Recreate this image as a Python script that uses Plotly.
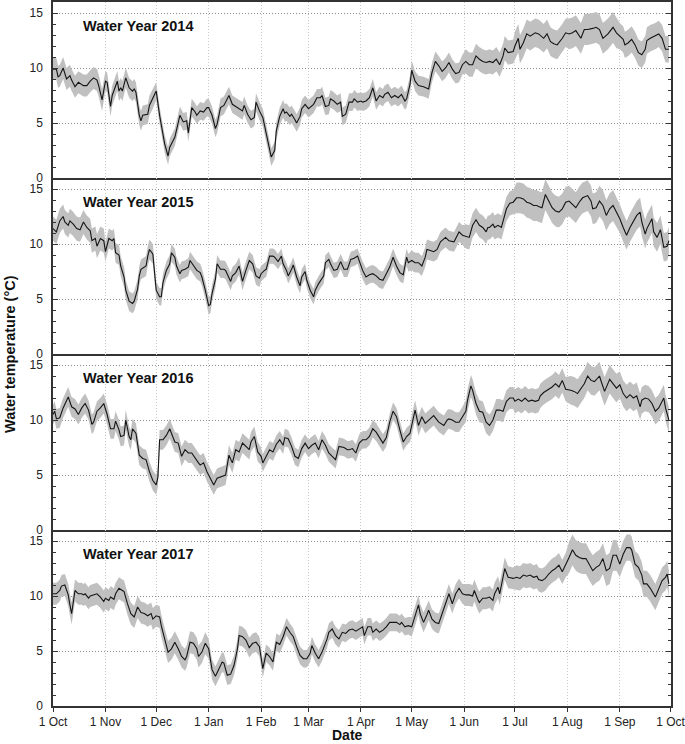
import numpy as np
import pandas as pd
import plotly.graph_objects as go
from plotly.subplots import make_subplots

# day of the water year (0 = 1 Oct) and daily mean water temperature (degC)
days_2014 = [0, 2, 3, 4, 6, 8, 10, 11, 13, 15, 18, 20, 22, 24, 26, 27, 29, 31, 32, 34,
             35, 38, 39, 40, 41, 43, 45, 47, 48, 49, 51, 52, 53, 56, 57, 59, 61, 63, 65, 66,
             68, 69, 72, 74, 75, 77, 79, 80, 82, 84, 85, 87, 89, 91, 92, 94, 96, 97, 99, 101,
             104, 106, 108, 110, 112, 113, 115, 117, 119, 120, 122, 124, 126, 128, 129, 131, 132, 134, 136, 137,
             138, 140, 141, 143, 144, 146, 147, 149, 151, 154, 156, 158, 159, 161, 163, 164, 166, 168, 170, 171,
             173, 175, 177, 178, 180, 182, 183, 185, 187, 189, 191, 193, 195, 196, 198, 200, 202, 204, 206, 208,
             209, 211, 212, 214, 216, 219, 221, 222, 224, 226, 228, 230, 232, 234, 236, 238, 240, 242, 244, 246,
             248, 250, 252, 254, 256, 258, 260, 262, 264, 266, 267, 269, 272, 273, 275, 276, 278, 280, 282, 285,
             287, 290, 292, 294, 296, 298, 301, 303, 305, 307, 309, 312, 314, 316, 319, 321, 323, 325, 328, 331,
             333, 335, 337, 338, 340, 342, 344, 346, 348, 350, 351, 353, 356, 358, 360, 362, 364]
temp_2014 = [9.9, 9.9, 9.2, 9.3, 10.0, 9.0, 9.3, 8.9, 8.3, 8.7, 8.4, 8.4, 8.8, 9.1, 8.9, 8.4, 7.1, 8.8, 8.7, 6.5,
             7.5, 8.8, 7.9, 8.2, 7.9, 9.1, 8.2, 7.9, 8.1, 7.8, 5.7, 5.2, 5.7, 5.8, 6.6, 7.2, 7.9, 5.7, 4.0, 3.1,
             2.0, 2.8, 3.7, 4.9, 5.7, 5.1, 5.2, 4.1, 6.4, 6.0, 5.7, 6.1, 6.0, 6.4, 6.4, 5.7, 4.5, 4.9, 6.4, 6.6,
             7.5, 6.7, 6.5, 6.3, 6.1, 6.6, 5.8, 5.3, 5.5, 6.9, 6.1, 5.5, 4.0, 2.5, 1.9, 2.5, 4.3, 5.6, 6.3, 5.9,
             6.0, 5.6, 5.8, 5.3, 5.0, 5.6, 6.3, 6.7, 6.3, 6.7, 7.3, 7.3, 7.5, 6.5, 6.6, 7.2, 7.0, 6.7, 6.9, 5.6,
             5.8, 6.9, 6.9, 7.2, 6.9, 7.0, 6.9, 7.0, 7.3, 8.2, 7.0, 7.5, 7.3, 7.6, 7.8, 7.3, 7.5, 7.3, 7.6, 7.0,
             7.2, 8.5, 9.8, 8.8, 8.4, 8.3, 8.2, 8.1, 9.6, 10.6, 10.2, 9.7, 10.0, 10.5, 9.9, 9.5, 9.6, 10.3, 10.6, 10.3,
             10.3, 11.1, 10.8, 10.6, 10.5, 10.6, 10.5, 10.8, 10.3, 11.1, 11.8, 11.4, 11.5, 12.0, 12.7, 11.7, 12.3, 13.1, 12.9, 13.2,
             13.1, 12.7, 13.1, 12.4, 12.2, 12.1, 12.7, 13.2, 13.1, 13.2, 13.4, 12.7, 13.5, 13.5, 13.6, 13.7, 13.5, 12.7, 13.1, 13.7,
             13.2, 12.9, 12.6, 12.1, 12.3, 12.6, 12.1, 11.4, 11.2, 11.7, 12.5, 12.7, 12.9, 13.1, 12.7, 11.7, 11.7]

days_2015 = [0, 2, 4, 6, 7, 9, 10, 12, 14, 16, 18, 20, 22, 23, 25, 26, 28, 30, 31, 33,
             35, 36, 37, 39, 40, 42, 43, 45, 47, 48, 50, 51, 52, 54, 55, 56, 57, 59, 60, 61,
             63, 64, 65, 67, 69, 70, 72, 73, 75, 76, 78, 80, 81, 83, 85, 87, 88, 90, 92, 93,
             94, 96, 97, 99, 101, 102, 105, 106, 108, 110, 111, 112, 114, 116, 118, 120, 122, 123, 125, 126,
             128, 130, 131, 133, 135, 136, 138, 139, 141, 142, 144, 146, 147, 149, 150, 152, 154, 155, 157, 160,
             161, 163, 164, 166, 168, 170, 172, 174, 176, 178, 180, 182, 183, 185, 187, 189, 191, 193, 195, 197,
             199, 201, 203, 205, 207, 209, 210, 212, 214, 216, 218, 220, 221, 223, 225, 227, 229, 232, 234, 237,
             240, 242, 244, 246, 248, 250, 252, 254, 256, 257, 258, 260, 261, 263, 265, 268, 270, 272, 274, 276,
             278, 280, 282, 284, 286, 287, 289, 291, 293, 295, 297, 299, 301, 303, 305, 307, 309, 311, 313, 316,
             318, 319, 321, 323, 325, 327, 329, 331, 333, 335, 337, 339, 341, 343, 345, 347, 348, 350, 351, 354,
             355, 357, 359, 361, 363, 364]
temp_2015 = [11.4, 11.1, 12.1, 12.5, 12.0, 11.7, 12.1, 11.8, 11.4, 11.3, 12.0, 11.5, 11.2, 10.3, 10.5, 9.8, 10.5, 10.3, 9.3, 10.5,
             10.3, 10.5, 9.2, 9.0, 8.0, 7.0, 5.8, 4.8, 4.6, 4.8, 5.9, 7.1, 7.7, 7.9, 8.0, 8.9, 9.5, 9.1, 7.1, 5.8,
             5.2, 5.2, 6.5, 7.6, 8.2, 9.2, 8.8, 8.0, 7.3, 7.6, 7.7, 7.9, 8.5, 8.0, 7.6, 7.4, 7.0, 5.8, 4.4, 4.5,
             5.5, 6.8, 8.2, 7.7, 7.7, 7.6, 6.6, 7.1, 7.4, 8.0, 7.3, 6.6, 7.6, 8.5, 8.2, 7.1, 6.9, 7.3, 7.6, 7.7,
             8.9, 8.9, 8.8, 8.4, 8.9, 8.2, 7.6, 7.1, 7.7, 8.1, 7.0, 6.2, 7.0, 7.5, 6.7, 5.8, 5.2, 5.8, 6.4, 7.1,
             8.3, 8.6, 8.2, 7.6, 7.7, 8.4, 7.7, 7.7, 8.6, 8.7, 8.9, 7.9, 7.6, 7.0, 7.2, 7.3, 7.1, 6.8, 6.7, 7.3,
             7.9, 8.8, 8.0, 7.4, 7.2, 8.8, 8.3, 8.5, 8.3, 8.3, 8.0, 8.8, 9.5, 9.4, 9.3, 9.5, 10.2, 10.6, 10.3, 10.2,
             11.1, 10.8, 10.7, 10.6, 11.7, 12.2, 11.7, 11.5, 11.1, 11.5, 11.5, 11.8, 11.5, 11.7, 11.5, 13.2, 13.7, 13.8, 14.2, 14.2,
             14.1, 13.8, 13.7, 13.5, 13.5, 13.4, 13.3, 14.5, 13.9, 13.3, 13.0, 12.9, 13.2, 13.8, 13.9, 13.6, 13.3, 13.8, 14.2, 14.4,
             13.9, 13.2, 13.3, 13.9, 13.5, 12.6, 13.2, 13.5, 12.9, 12.3, 11.5, 10.8, 11.5, 12.1, 12.6, 12.9, 12.0, 10.9, 11.4, 12.3,
             11.1, 10.6, 11.3, 9.7, 9.8, 10.3]

days_2016 = [0, 1, 2, 4, 6, 8, 9, 11, 13, 15, 17, 19, 21, 23, 24, 26, 28, 30, 32, 34,
             36, 37, 39, 40, 42, 43, 45, 46, 47, 49, 51, 53, 55, 57, 59, 61, 62, 63, 65, 67,
             69, 70, 72, 74, 76, 78, 80, 82, 84, 86, 87, 89, 91, 92, 94, 95, 97, 99, 102, 104,
             106, 108, 110, 112, 114, 116, 117, 119, 121, 123, 124, 126, 128, 130, 132, 134, 136, 137, 139, 141,
             143, 145, 147, 149, 151, 153, 155, 157, 159, 161, 163, 165, 167, 169, 172, 174, 175, 177, 179, 181,
             183, 185, 187, 189, 191, 193, 195, 197, 199, 201, 203, 205, 207, 209, 211, 212, 214, 216, 218, 220,
             222, 225, 226, 228, 231, 233, 234, 236, 238, 240, 242, 244, 245, 247, 248, 250, 252, 254, 256, 258,
             260, 262, 264, 266, 268, 270, 272, 273, 275, 277, 279, 281, 283, 285, 287, 288, 290, 293, 295, 297,
             299, 301, 303, 306, 308, 310, 312, 314, 316, 318, 320, 323, 324, 326, 329, 331, 333, 335, 337, 339,
             341, 343, 345, 347, 348, 350, 352, 354, 356, 358, 361, 362, 364]
temp_2016 = [10.5, 10.8, 10.1, 10.2, 11.1, 11.7, 12.1, 11.2, 11.0, 10.5, 11.1, 11.5, 10.9, 9.6, 9.8, 10.8, 11.1, 11.5, 10.5, 9.2,
             9.2, 9.9, 9.1, 8.5, 8.6, 10.0, 8.5, 8.2, 9.2, 8.8, 6.8, 6.5, 6.4, 5.3, 4.5, 4.1, 4.8, 8.2, 8.2, 8.6,
             9.2, 8.8, 8.0, 7.9, 6.7, 7.3, 7.0, 7.0, 6.5, 6.1, 5.9, 6.1, 5.3, 5.0, 4.5, 4.1, 4.7, 4.8, 5.0, 6.8,
             6.1, 7.3, 7.1, 7.9, 7.6, 7.3, 8.0, 8.5, 7.1, 6.7, 6.1, 6.7, 7.3, 7.1, 7.8, 8.2, 7.7, 8.4, 8.3, 7.6,
             6.7, 6.5, 7.4, 7.9, 7.4, 7.7, 7.9, 7.3, 8.2, 7.7, 7.0, 6.7, 6.4, 7.6, 7.5, 7.3, 7.3, 7.4, 7.0, 7.9,
             8.2, 8.2, 8.5, 9.2, 8.9, 8.4, 7.9, 8.4, 9.8, 10.8, 10.3, 9.1, 8.0, 8.5, 8.8, 9.5, 10.9, 9.5, 10.3, 9.7,
             10.0, 10.4, 10.2, 9.8, 9.5, 10.0, 10.1, 10.0, 9.8, 9.8, 10.3, 10.8, 11.8, 13.1, 12.7, 11.5, 10.8, 10.7, 9.8, 9.5,
             10.0, 10.9, 10.9, 10.8, 11.7, 12.0, 12.0, 11.7, 11.9, 11.7, 12.0, 11.7, 11.8, 11.7, 11.8, 12.2, 12.5, 12.8, 13.0, 13.3,
             13.0, 13.6, 12.8, 12.7, 12.6, 12.4, 12.8, 13.3, 14.0, 13.6, 13.5, 14.0, 13.5, 12.6, 13.7, 13.3, 12.9, 13.2, 12.4, 12.0,
             12.3, 12.0, 12.2, 11.2, 11.8, 12.0, 11.9, 11.5, 10.8, 11.1, 12.0, 11.1, 10.0]

days_2017 = [0, 2, 4, 5, 7, 9, 10, 11, 13, 15, 17, 18, 19, 21, 22, 24, 26, 28, 30, 31,
             33, 34, 36, 37, 39, 41, 42, 44, 46, 48, 50, 52, 54, 56, 58, 59, 61, 63, 64, 66,
             68, 70, 72, 74, 76, 78, 79, 81, 83, 85, 86, 88, 90, 92, 93, 94, 96, 98, 100, 101,
             103, 105, 107, 109, 110, 112, 114, 116, 118, 120, 122, 124, 126, 128, 130, 132, 134, 136, 138, 140,
             142, 144, 146, 148, 150, 152, 153, 155, 157, 159, 162, 163, 165, 167, 169, 171, 173, 175, 177, 179,
             181, 183, 184, 186, 188, 189, 191, 193, 195, 197, 199, 201, 203, 205, 206, 208, 210, 212, 214, 216,
             217, 219, 221, 222, 224, 226, 228, 230, 232, 234, 236, 238, 240, 242, 244, 246, 248, 249, 251, 252,
             254, 256, 258, 260, 261, 263, 264, 266, 267, 269, 272, 274, 276, 278, 280, 282, 284, 286, 287, 289,
             291, 293, 295, 297, 299, 301, 303, 305, 307, 309, 311, 313, 315, 317, 319, 321, 323, 325, 327, 329,
             331, 333, 335, 337, 339, 341, 342, 344, 346, 348, 349, 351, 353, 356, 358, 360, 362, 363, 364]
temp_2017 = [10.2, 10.2, 10.5, 10.9, 11.0, 10.1, 9.2, 8.4, 10.5, 10.2, 10.2, 10.1, 10.2, 9.8, 10.0, 10.1, 10.2, 9.9, 9.5, 9.8,
             9.6, 9.9, 9.7, 10.2, 10.7, 10.5, 10.4, 9.3, 8.4, 8.1, 9.0, 8.5, 8.4, 8.2, 8.4, 7.9, 8.2, 8.1, 7.3, 6.1,
             4.9, 5.2, 5.8, 5.2, 4.5, 4.2, 4.5, 5.8, 5.7, 5.2, 4.5, 4.9, 5.7, 5.2, 4.0, 3.3, 2.7, 3.4, 4.0, 3.9,
             2.8, 2.9, 3.7, 5.2, 6.4, 6.3, 6.0, 5.3, 5.7, 5.8, 5.4, 3.4, 4.8, 4.5, 4.0, 5.8, 5.6, 6.3, 7.2, 6.7,
             6.3, 5.4, 4.6, 4.3, 4.3, 4.8, 5.5, 4.8, 4.3, 4.9, 6.1, 6.7, 7.0, 6.4, 6.1, 6.7, 6.6, 6.9, 7.0, 6.8,
             7.0, 7.2, 6.4, 7.2, 7.2, 6.7, 7.0, 6.7, 6.9, 7.2, 7.6, 7.6, 7.6, 7.4, 7.6, 7.2, 7.3, 7.2, 8.2, 9.2,
             8.4, 7.6, 8.3, 8.7, 7.9, 7.6, 7.5, 8.4, 9.2, 10.2, 9.3, 10.2, 10.7, 10.2, 10.1, 10.1, 10.0, 10.5, 9.7, 9.4,
             9.8, 9.8, 9.9, 9.6, 10.2, 10.8, 10.2, 11.6, 12.5, 11.7, 11.6, 11.7, 11.6, 11.9, 11.8, 11.9, 11.7, 11.8, 11.5, 11.4,
             11.6, 12.0, 12.3, 12.5, 12.8, 12.2, 12.8, 13.5, 14.2, 13.7, 13.5, 13.4, 13.4, 12.8, 12.3, 12.6, 12.8, 13.4, 12.3, 12.5,
             13.7, 13.7, 12.9, 13.8, 14.4, 14.4, 14.2, 12.9, 12.6, 11.9, 11.1, 11.1, 10.7, 9.9, 10.7, 11.4, 11.7, 12.0, 11.1]

# half of the daily min-max range, one value per month (Oct ... Sep)
band_2014 = [1.0, 0.9, 0.8, 0.8, 0.8, 0.8, 0.8, 0.9, 1.1, 1.3, 1.4, 1.2]
band_2015 = [1.1, 0.9, 0.8, 0.8, 0.7, 0.7, 0.8, 0.9, 1.1, 1.4, 1.4, 1.3]
band_2016 = [0.9, 0.9, 0.9, 0.9, 0.8, 0.8, 0.8, 0.9, 1.0, 1.1, 1.3, 1.2]
band_2017 = [1.0, 1.0, 1.0, 0.9, 0.8, 0.8, 0.8, 0.9, 1.0, 1.1, 1.4, 1.2]

titles = ["Water Year 2014", "Water Year 2015", "Water Year 2016", "Water Year 2017"]
y_ticks = [0, 5, 10, 15]

start = pd.Timestamp("2013-10-01")
end = start + pd.DateOffset(years=1)
month_ticks = pd.date_range(start, end, freq="MS")

panels = [(days_2014, temp_2014, band_2014),
          (days_2015, temp_2015, band_2015),
          (days_2016, temp_2016, band_2016),
          (days_2017, temp_2017, band_2017)]

FONT = "Arial, Liberation Sans, sans-serif"
band_color = "rgb(192,192,192)"
frame = "#333333"

fig = make_subplots(rows=4, cols=1, shared_xaxes=True, vertical_spacing=0)

for i, (days, temps, band) in enumerate(panels, start=1):
    if len(days) != len(temps):
        raise ValueError(f"panel {i}: {len(days)} days vs {len(temps)} temps")
    dates = start + pd.to_timedelta(days, unit="D")
    half = np.array([band[(d.month - 10) % 12] for d in dates])
    t = np.array(temps)

    #grey band = daily range, drawn as fill between lower and upper edge
    fig.add_trace(go.Scatter(x=dates, y=t - half, mode="lines", line=dict(width=0, color=band_color),
                             hoverinfo="skip", showlegend=False), row=i, col=1)
    fig.add_trace(go.Scatter(x=dates, y=t + half, mode="lines", line=dict(width=0, color=band_color),
                             fill="tonexty", fillcolor=band_color, hoverinfo="skip", showlegend=False), row=i, col=1)
    #daily mean
    fig.add_trace(go.Scatter(x=dates, y=t, mode="lines", line=dict(color="#141414", width=1.1),
                             showlegend=False), row=i, col=1)

    xr = "x" if i == 1 else f"x{i}"
    yr = "y" if i == 1 else f"y{i}"
    fig.add_annotation(text=f"<b>{titles[i - 1]}</b>", xref=f"{xr} domain", yref=f"{yr} domain",
                       x=0.046, y=0.865, xanchor="left", yanchor="middle", showarrow=False,
                       font=dict(size=14.5, color="#111", family=FONT))

fig.update_yaxes(range=[0, 16], tickvals=y_ticks, ticks="inside", ticklen=5, tickwidth=1, tickcolor=frame,
                 minor=dict(dtick=1, ticks="inside", ticklen=3, tickcolor=frame, showgrid=False),
                 showline=True, linecolor=frame, linewidth=1.5, mirror="ticks",
                 showgrid=True, gridcolor="#8c8c8c", griddash="1px,2px", gridwidth=1,
                 zeroline=False, ticklabelstandoff=6, automargin=False,
                 tickfont=dict(size=12, color="#222"))

#x frame: only the bottom line of each panel, plus the top line of the first one
#(range end nudged by a few hours so the closing "1 Oct" tick is kept)
fig.update_xaxes(range=[start, end + pd.Timedelta(hours=6)], tickvals=month_ticks, tickformat="%-d %b",
                 showline=True, linecolor=frame, linewidth=1.5, mirror=False,
                 showgrid=True, gridcolor="#c8c8c8", griddash="1px,2px", gridwidth=1,
                 ticks="", showticklabels=False, automargin=False, ticklabeloverflow="allow",
                 tickfont=dict(size=12, color="#222"))
fig.update_xaxes(mirror=True, row=1, col=1)
fig.update_xaxes(ticks="outside", ticklen=4, tickcolor=frame, showticklabels=True, row=4, col=1)

fig.add_annotation(text="<b>Water temperature (°C)</b>", xref="paper", yref="paper", x=0, y=0.5,
                   xshift=-43, textangle=-90, showarrow=False, xanchor="center", yanchor="middle",
                   font=dict(size=14.5, color="#111", family=FONT))
fig.add_annotation(text="<b>Date</b>", xref="paper", yref="paper", x=0.477, y=0, yshift=-29,
                   showarrow=False, xanchor="center", yanchor="middle",
                   font=dict(size=14, color="#111", family=FONT))

fig.update_layout(width=685, height=744, margin=dict(l=53, r=14, t=2, b=38),
                  plot_bgcolor="white", paper_bgcolor="white",
                  font=dict(family=FONT, size=12, color="#222"), showlegend=False)

#drop the browser's default body margin so the figure sits at the window corner
fig.write_html("out.html", config={"displayModeBar": False},
               post_script="document.body.style.margin='0';document.body.style.overflow='hidden';")
